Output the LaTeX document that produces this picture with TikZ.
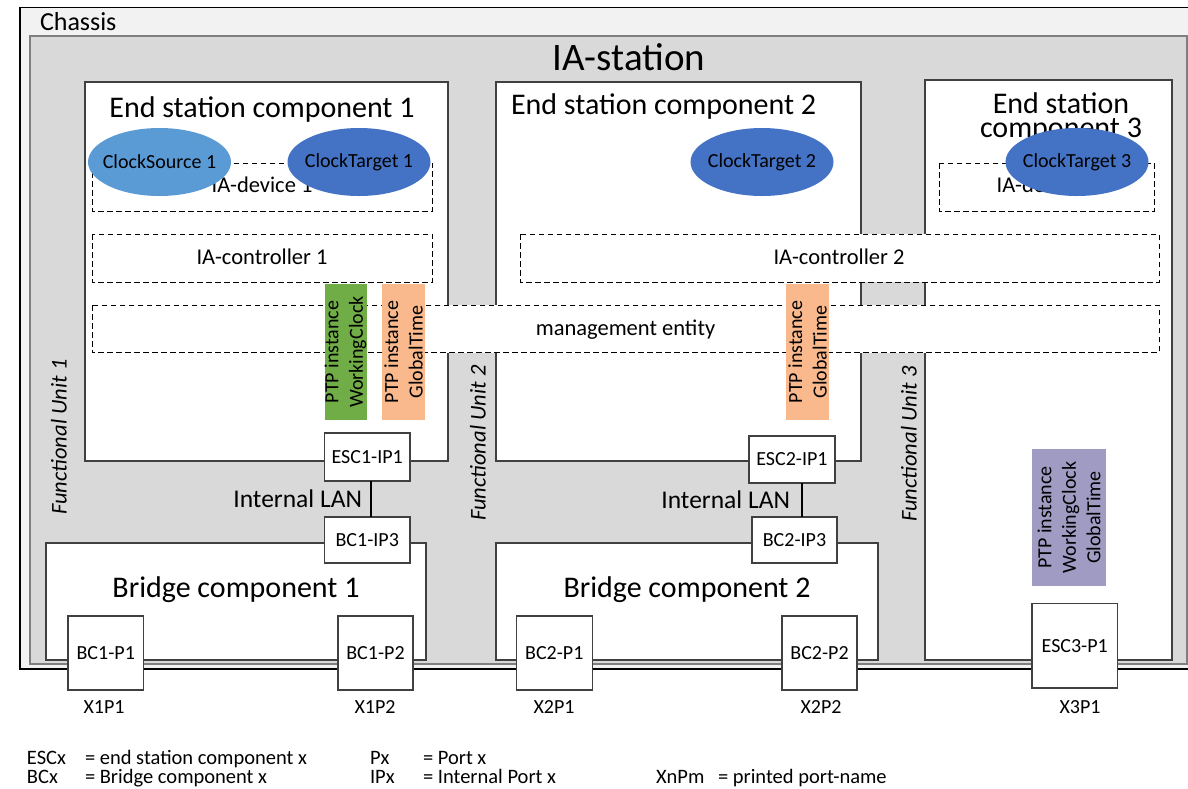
\documentclass[tikz,border=0pt]{standalone}
\usepackage{fontspec}
\setmainfont{Carlito}
\usetikzlibrary{shapes.geometric,calc}

\definecolor{chassisfill}{HTML}{F2F2F2}
\definecolor{stationfill}{HTML}{D9D9D9}
\definecolor{stationline}{HTML}{7F7F7F}
\definecolor{compline}{HTML}{404040}
\definecolor{srcblue}{HTML}{5B9BD5}
\definecolor{tgtblue}{HTML}{4472C4}
\definecolor{ptpgreen}{HTML}{70AD47}
\definecolor{ptporange}{HTML}{F9B98D}
\definecolor{ptppurple}{HTML}{A09BC3}

\newcommand{\fz}[2]{\fontsize{#1pt}{#2pt}\selectfont}

\begin{document}
\begin{tikzpicture}[x=1pt,y=-1pt,
  every node/.style={inner sep=0pt, outer sep=0pt, text=black},
  comp/.style={draw=compline, line width=1.3pt, fill=white},
  dbox/.style={draw=black, line width=0.9pt, dash pattern=on 5.5pt off 3.5pt, fill=white},
  title/.style={font=\fz{30}{36}, anchor=base},
  boxtext/.style={font=\fz{22.5}{27}, anchor=base},
  clk/.style={ellipse, minimum width=143pt, minimum height=68pt},
  clktext/.style={font=\fz{20}{24}},
  ptpfill/.style={minimum width=#1, minimum height=136pt},
  ptptext/.style={rotate=90, align=center, font=\fz{20}{24.5}},
  port/.style={draw=compline, line width=1.1pt, fill=white, font=\fz{20}{24}},
  portlabel/.style={font=\fz{20}{24}, anchor=base},
  lan/.style={font=\fz{25.5}{30}},
  fu/.style={rotate=90, font=\itshape\fz{22.5}{27}},
  legend/.style={font=\fz{20.5}{24}, anchor=base west},
  link/.style={draw=black, line width=1.1pt}
]
\useasboundingbox (0,0) rectangle (1188,788);
\clip (0,0) rectangle (1188,788);

% chassis and station frames
\draw[fill=chassisfill, line width=1.5pt] (20,7.5) rectangle (1210,669);
\draw[line width=2.6pt] (20,669) -- (1210,669);
\draw[fill=stationfill, draw=stationline, line width=1.5pt] (30,36) rectangle (1187,664);
\node[anchor=base west, font=\fz{26}{30}] (chassislbl) at (40,30.5) {Chassis};
\node[anchor=base, font=\fz{39}{46}] (stationlbl) at (629,70) {IA-station};

% components
\draw[comp] (85,82) rectangle (448,461);
\draw[comp] (496,82) rectangle (861,461);
\draw[comp] (925,80) rectangle (1172,660);
\draw[comp] (46,543) rectangle (426,660);
\draw[comp] (496,543) rectangle (878,660);

\node[title] (esc1t) at (262,117) {End station component 1};
\node[title, anchor=base west] (esc2t) at (511,114) {End station component 2};
\node[font=\fz{30}{24}, align=center] (esc3t) at (1061,117.5) {End station\\component 3};
\node[title] (bc1t) at (236,597) {Bridge component 1};
\node[title] (bc2t) at (687,597) {Bridge component 2};

% logical entities
\draw[dbox] (92,163) rectangle (432.5,211);
\node[boxtext] (dev1) at (262,192.7) {IA-device 1};
\draw[dbox] (939,163) rectangle (1154.5,211);
\node[boxtext] (dev3) at (1047,192.7) {IA-device 3};
\draw[dbox] (92,234) rectangle (432.5,282);
\node[boxtext] (ctl1) at (262,264) {IA-controller 1};
\draw[dbox] (520,234) rectangle (1159,282);
\node[boxtext] (ctl2) at (839,264) {IA-controller 2};
\draw[dbox] (92,305) rectangle (1159,352.7);
\node[boxtext] (mgmt) at (625.5,335) {management entity};

% clocks
\node[clk, fill=srcblue] (cs1) at (159.5,162) {};
\node[clktext] at (cs1) {ClockSource 1};
\node[clk, fill=tgtblue] (ct1) at (359,162) {};
\node[clktext] at (ct1) {ClockTarget 1};
\node[clk, fill=tgtblue] (ct2) at (762,162) {};
\node[clktext] at (ct2) {ClockTarget 2};
\node[clk, fill=tgtblue] (ct3) at (1077,162) {};
\node[clktext] at (ct3) {ClockTarget 3};

% PTP instances
\node[ptpfill=42pt, fill=ptpgreen] (ptpwc1) at (345.5,352) {};
\node[ptptext] at (ptpwc1) {PTP instance\\WorkingClock};
\node[ptpfill=43pt, fill=ptporange] (ptpgt1) at (403.5,352) {};
\node[ptptext] at (ptpgt1) {PTP instance\\GlobalTime};
\node[ptpfill=43pt, fill=ptporange] (ptpgt2) at (807.5,352) {};
\node[ptptext] at (ptpgt2) {PTP instance\\GlobalTime};
\node[minimum width=74pt, minimum height=137pt, fill=ptppurple] (ptp3) at (1069,517.5) {};
\node[ptptext] at (ptp3) {PTP instance\\WorkingClock\\GlobalTime};

% internal ports and LAN links
\node[port, minimum width=85.5pt, minimum height=48pt] (esc1ip1) at (367.25,457) {ESC1-IP1};
\node[port, minimum width=85.5pt, minimum height=46pt] (bc1ip3) at (367.25,540) {BC1-IP3};
\node[port, minimum width=86pt, minimum height=47pt] (esc2ip1) at (792,459.5) {ESC2-IP1};
\node[port, minimum width=85pt, minimum height=46pt] (bc2ip3) at (794.5,540) {BC2-IP3};
\draw[link] ([xshift=3.75pt]esc1ip1.south) -- node[lan, left=9pt] (lan1) {Internal LAN} ([xshift=3.75pt]bc1ip3.north);
\draw[link] ([xshift=10pt]esc2ip1.south) -- node[lan, left=12pt] (lan2) {Internal LAN} ([xshift=7.5pt]bc2ip3.north);

% external ports
\node[port, minimum width=75.5pt, minimum height=74pt] (bc1p1) at (105.75,653) {BC1-P1};
\node[port, minimum width=75pt, minimum height=74pt] (bc1p2) at (375.5,653) {BC1-P2};
\node[port, minimum width=75.5pt, minimum height=74pt] (bc2p1) at (554.3,653) {BC2-P1};
\node[port, minimum width=75pt, minimum height=74pt] (bc2p2) at (819.5,653) {BC2-P2};
\node[port, minimum width=85.5pt, minimum height=84.5pt] (esc3p1) at (1074.75,645.75) {ESC3-P1};

\node[portlabel] (x1p1) at (104,713) {X1P1};
\node[portlabel] (x1p2) at (375,713) {X1P2};
\node[portlabel] (x2p1) at (554,713) {X2P1};
\node[portlabel] (x2p2) at (821,713) {X2P2};
\node[portlabel] (x3p1) at (1080,713) {X3P1};

% functional units
\node[fu] (fu1) at (59,437) {Functional Unit 1};
\node[fu] (fu2) at (478,443) {Functional Unit 2};
\node[fu] (fu3) at (909,444) {Functional Unit 3};

% abbreviations
\node[legend] (l1a) at (27,764) {ESCx};
\node[legend] (l1b) at (85,764) {= end station component x};
\node[legend] (l2a) at (27,783) {BCx};
\node[legend] (l2b) at (85,783) {= Bridge component x};
\node[legend] (l3a) at (370,764) {Px};
\node[legend] (l3b) at (423,764) {= Port x};
\node[legend] (l4a) at (370,783) {IPx};
\node[legend] (l4b) at (423,783) {= Internal Port x};
\node[legend] (l5a) at (656,783) {XnPm};
\node[legend] (l5b) at (718,783) {= printed port-name};
\end{tikzpicture}
\end{document}
